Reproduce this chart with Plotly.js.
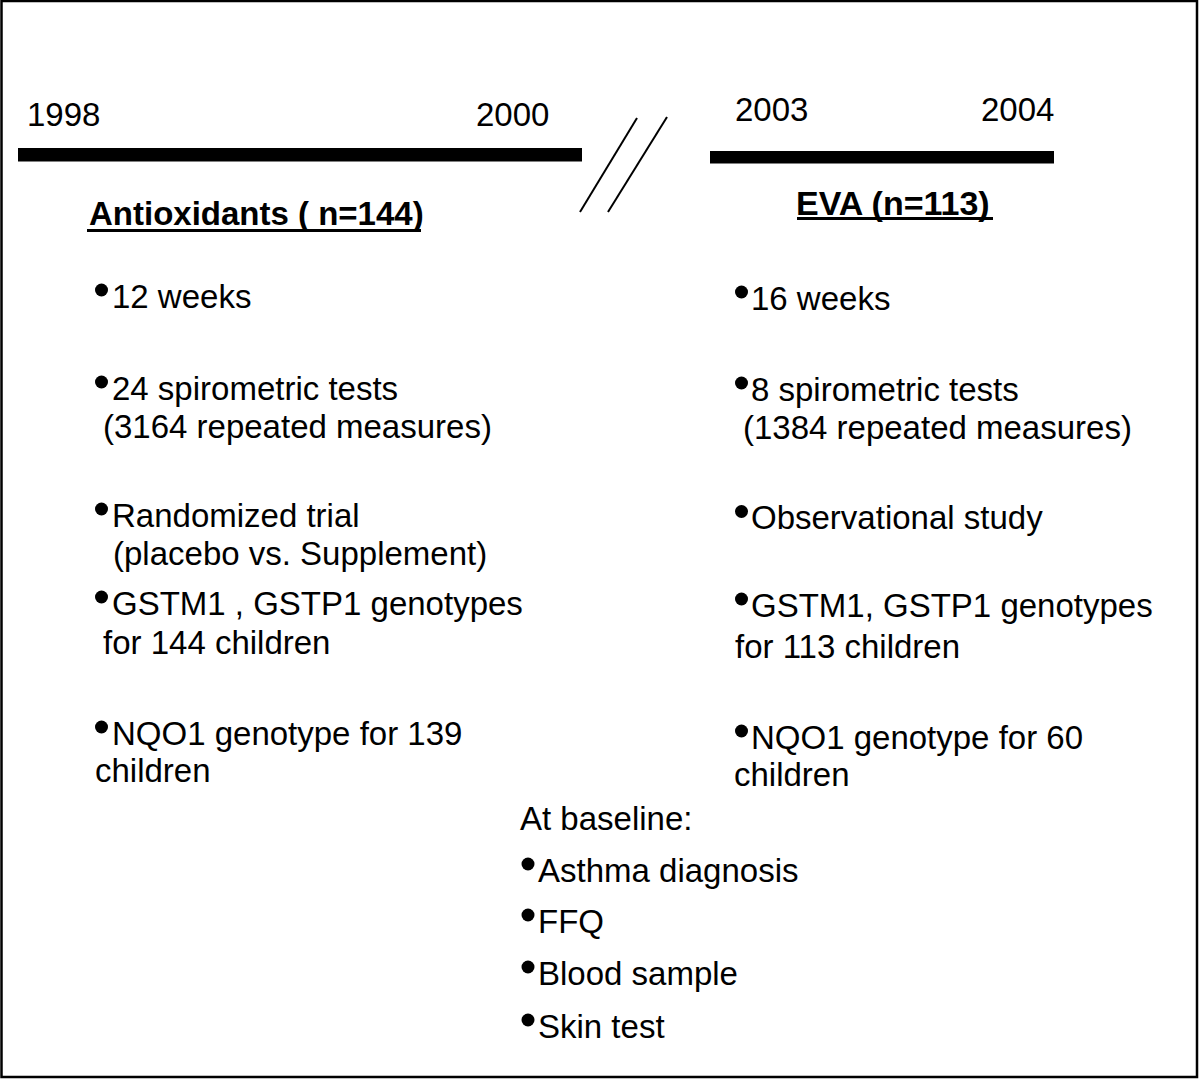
<!DOCTYPE html>
<html>
<head>
<meta charset="utf-8">
<script src="https://cdn.plot.ly/plotly-3.0.1.min.js"></script>
<style>html,body{margin:0;padding:0;background:#fff;}#chart{width:1200px;height:1080px;}</style>
</head>
<body>
<div id="chart"></div>
<script>
// ---- content ----
const years = ["1998", "2000", "2003", "2004"];
const leftHeading = "Antioxidants ( n=144)";
const rightHeading = "EVA (n=113)";
const leftItems = [
  ["12 weeks"],
  ["24 spirometric tests", "(3164 repeated measures)"],
  ["Randomized trial", "(placebo vs. Supplement)"],
  ["GSTM1 , GSTP1 genotypes", "for 144 children"],
  ["NQO1 genotype for 139", "children"]
];
const rightItems = [
  ["16 weeks"],
  ["8 spirometric tests", "(1384 repeated measures)"],
  ["Observational study"],
  ["GSTM1, GSTP1 genotypes", "for 113 children"],
  ["NQO1 genotype for 60", "children"]
];
const baselineTitle = "At baseline:";
const baselineItems = ["Asthma diagnosis", "FFQ", "Blood sample", "Skin test"];

// ---- layout (positions in pixel space) ----
const FONT = "Liberation Sans, Arial, Helvetica, sans-serif";
const FS = 33;
const yearPos = [[26.5, 114.5], [476, 114], [735, 109], [980.5, 109]];
const leftCol = {
  bx: 101.5, tx: 112,
  y: [296, 388, 515, 603, 733],
  cy: [0, 426, 553, 642, 770],
  cx: [0, 103, 113, 103, 95]
};
const rightCol = {
  bx: 741.5, tx: 751,
  y: [298, 389, 517.5, 605, 737],
  cy: [0, 427, 0, 646, 774],
  cx: [0, 743, 0, 735, 734]
};
const baseCol = {titleX: 520, titleY: 818, bx: 528, tx: 538, y: [870, 921, 973, 1026]};
const BULLET_DY = -6;

const annotations = [];
function txt(x, y, s, extra) {
  annotations.push(Object.assign({
    x: x, y: y, xref: 'x', yref: 'y', text: s, showarrow: false,
    xanchor: 'left', yanchor: 'middle', borderpad: 0, borderwidth: 0,
    font: {family: FONT, size: FS, color: '#000'}
  }, extra || {}));
}
years.forEach((yr, i) => txt(yearPos[i][0], yearPos[i][1], yr));
txt(89, 213, '<b>' + leftHeading + '</b>');
txt(795.5, 203, '<b>' + rightHeading + '</b>', {font: {family: FONT, size: 34, color: '#000'}});

const bx = [], by = [];
function column(items, col) {
  items.forEach((lines, i) => {
    txt(col.tx, col.y[i], lines[0]);
    bx.push(col.bx); by.push(col.y[i] + BULLET_DY);
    if (lines.length > 1) txt(col.cx[i], col.cy[i], lines[1]);
  });
}
column(leftItems, leftCol);
column(rightItems, rightCol);
txt(baseCol.titleX, baseCol.titleY, baselineTitle);
baselineItems.forEach((s, i) => {
  txt(baseCol.tx, baseCol.y[i], s);
  bx.push(baseCol.bx); by.push(baseCol.y[i] + BULLET_DY);
});

const shapes = [
  {type: 'rect', xref: 'x', yref: 'y', x0: 1.5, y0: 1, x1: 1197, y1: 1077, line: {color: '#000', width: 2.5}, fillcolor: 'rgba(0,0,0,0)'},
  {type: 'rect', xref: 'x', yref: 'y', x0: 18, y0: 148, x1: 582, y1: 161.5, line: {width: 0}, fillcolor: '#000'},
  {type: 'rect', xref: 'x', yref: 'y', x0: 710, y0: 151, x1: 1054, y1: 163.5, line: {width: 0}, fillcolor: '#000'},
  {type: 'line', xref: 'x', yref: 'y', x0: 580, y0: 212, x1: 637, y1: 118, line: {color: '#000', width: 2}},
  {type: 'line', xref: 'x', yref: 'y', x0: 608, y0: 212, x1: 667, y1: 117, line: {color: '#000', width: 2}},
  // heading underlines
  {type: 'line', xref: 'x', yref: 'y', x0: 87, y0: 230.5, x1: 421, y1: 230.5, line: {color: '#000', width: 3}},
  {type: 'line', xref: 'x', yref: 'y', x0: 797, y0: 218.5, x1: 993, y1: 218.5, line: {color: '#000', width: 3}}
];

const data = [{
  type: 'scatter', mode: 'markers', x: bx, y: by,
  marker: {color: '#000', size: 13, symbol: 'circle'},
  hoverinfo: 'skip', showlegend: false, cliponaxis: false
}];

const layout = {
  width: 1200, height: 1080,
  margin: {l: 0, r: 0, t: 0, b: 0, pad: 0},
  paper_bgcolor: '#fff', plot_bgcolor: '#fff',
  xaxis: {range: [0, 1200], visible: false, fixedrange: true},
  yaxis: {range: [1080, 0], visible: false, fixedrange: true},
  showlegend: false,
  annotations: annotations,
  shapes: shapes
};
Plotly.newPlot('chart', data, layout, {staticPlot: true, displayModeBar: false});
</script>
</body>
</html>
